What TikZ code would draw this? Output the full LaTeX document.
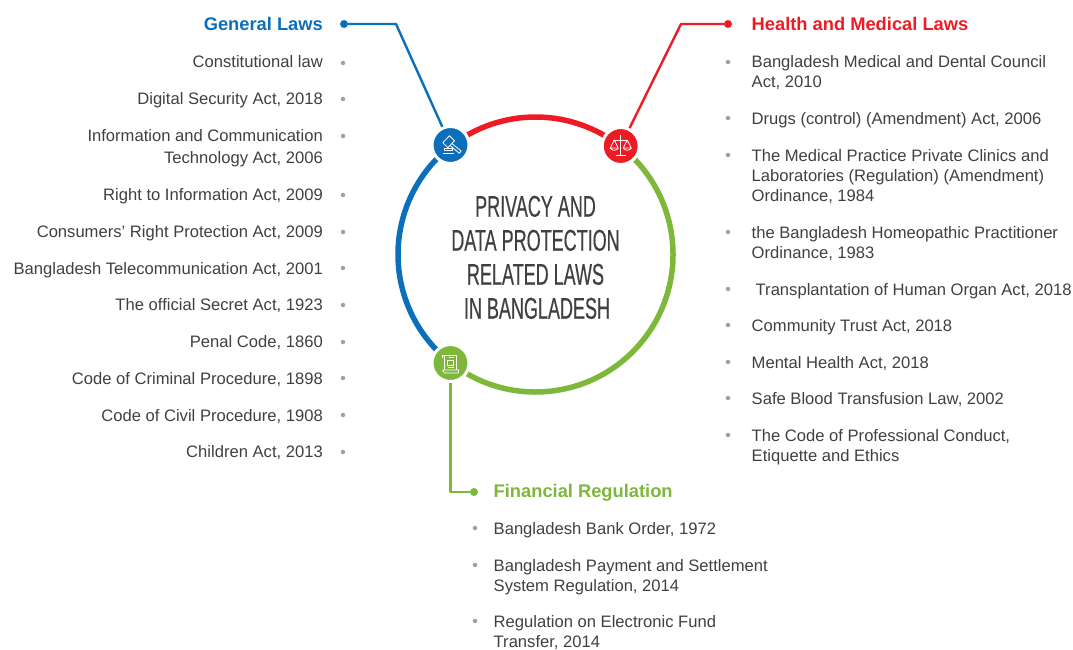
\documentclass[tikz,border=0pt]{standalone}
\usepackage{fontspec}
\setmainfont{Liberation Sans}
\newfontfamily\condfont[FakeStretch=0.6,FakeBold=0.35]{Liberation Sans}
\definecolor{lawblue}{HTML}{0B6FBC}
\definecolor{lawred}{HTML}{ED1C24}
\definecolor{lawgreen}{HTML}{7DB83A}
\definecolor{lawtext}{HTML}{404040}
\definecolor{lawdot}{HTML}{A0A0A0}
\tikzset{
  lawtxt/.style={inner sep=0pt,text=lawtext,font=\fontsize{16.6}{20}\selectfont},
  lawl/.style={lawtxt,anchor=north east,align=right},
  lawr/.style={lawtxt,anchor=north west,align=left},
  bul/.style={circle,fill=lawdot,inner sep=0pt,minimum size=4.5pt},
  head/.style={inner sep=0pt,font=\fontsize{18.3}{20}\selectfont\bfseries},
  enddot/.style={circle,inner sep=0pt,minimum size=8pt},
  icon/.style={circle,inner sep=0pt,minimum size=37pt,draw=white,line width=3pt},
  ringarc/.style={line width=5.5pt},
  conn/.style={line width=2.4pt},
  glyph/.style={draw=white,line width=0.8pt,line join=round},
  title/.style={inner sep=0pt,text=lawtext,font=\fontsize{30}{34}\condfont}
}
\newcommand{\lawL}[4]{\node[lawl] (#1) at (323,#2-5.5) {#4};\node[bul] (#1b) at (343,#3) {};}
\newcommand{\lawR}[4]{\node[lawr] (#1) at (751.5,#2-5.5) {#4};\node[bul] (#1b) at (728,#3) {};}
\newcommand{\lawF}[3]{\node[lawr] (#1) at (493.5,#2-5.5) {#3};\node[bul] (#1b) at (475,#2) {};}
\begin{document}
\begin{tikzpicture}[x=1pt,y=-1pt]
\useasboundingbox (0,0) rectangle (1073,650);
\coordinate (c) at (535.5,254.5);
% ring
\draw[ringarc,lawred] (c) ++(128:137.5pt) arc[start angle=128,end angle=52,radius=137.5pt];
\draw[ringarc,lawblue] (c) ++(128:137.5pt) arc[start angle=128,end angle=232,radius=137.5pt];
\draw[ringarc,lawgreen] (c) ++(52:137.5pt) arc[start angle=52,end angle=-128,radius=137.5pt];
% icons
\node[icon,fill=lawblue] (iconB) at (450.5,145) {};
\node[icon,fill=lawred] (iconR) at (620.7,146) {};
\node[icon,fill=lawgreen] (iconG) at (450.5,363) {};
% gavel
\begin{scope}[shift={(iconB)},glyph]
  \draw (-7.7,-2.3) -- (-1,-9.3) -- (4,-4.3) -- (-2.7,2.7) -- cycle;
  \draw (1.2,-1.6) -- (10.6,6) -- (8.8,8.2) -- (-0.6,0.4);
  \draw (-6,3.8) rectangle (2,5.8);
  \draw (-7.5,8) -- (3.5,8);
\end{scope}
% scales
\begin{scope}[shift={(iconR)},glyph]
  \draw (0,-10.5) -- (0,9);
  \draw (-7.5,-6) -- (7.5,-6);
  \draw (-5,9.5) -- (5,9.5);
  \draw (-6.5,-6) -- (-10.5,2) -- (-2.5,2) -- cycle;
  \draw (-10.5,2) .. controls (-9,5) and (-4,5) .. (-2.5,2);
  \draw (6.5,-6) -- (10.5,2) -- (2.5,2) -- cycle;
  \draw (10.5,2) .. controls (9,5) and (4,5) .. (2.5,2);
\end{scope}
% scroll
\begin{scope}[shift={(iconG)},glyph]
  \draw (-8,-5) -- (-8,-8) -- (6,-8) -- (6,7) (-6,-8) -- (-6,7);
  \draw (-8,7) -- (8,7) -- (8,10) -- (-6,10) -- (-8,7);
  \draw (-2,-5.5) -- (3,-5.5);
  \draw (-3,-3) rectangle (3,2);
  \draw (-3,4.5) -- (3,4.5);
\end{scope}
% connectors
\node[enddot,fill=lawblue] (dotB) at (344,24) {};
\node[enddot,fill=lawred] (dotR) at (728,24) {};
\node[enddot,fill=lawgreen] (dotG) at (474,492) {};
\coordinate (bendB) at (396,24);
\coordinate (bendR) at (681,24);
\coordinate (bendG) at (450.5,492);
\draw[conn,lawblue,line join=round] (dotB) -- (bendB) -- (iconB);
\draw[conn,lawred,line join=round] (dotR) -- (bendR) -- (iconR);
\draw[conn,lawgreen,line join=round] (dotG) -- (bendG) -- (iconG);
% title
\node[title,anchor=base] (t1) at (535.5,216.7) {PRIVACY AND};
\node[title,anchor=base] (t2) at (535.5,250.7) {DATA PROTECTION};
\node[title,anchor=base] (t3) at (535.5,284.7) {RELATED LAWS};
\node[title,anchor=base] (t4) at (537,318.7) {IN BANGLADESH};
% headings
\node[head,text=lawblue,anchor=base east] (hB) at (323,30.5) {General Laws};
\node[head,text=lawred,anchor=base west] (hR) at (751.5,30.5) {Health and Medical Laws};
\node[head,text=lawgreen,anchor=base west] (hG) at (493.5,497.5) {Financial Regulation};
% left list
\lawL{a1}{61}{63}{Constitutional law}
\lawL{a2}{98}{99}{Digital Security Act, 2018}
\lawL{a3}{135}{136}{Information and Communication\\[2pt]Technology Act, 2006}
\lawL{a4}{194}{195}{Right to Information Act, 2009}
\lawL{a5}{231}{232}{Consumers’ Right Protection Act, 2009}
\lawL{a6}{268}{268}{Bangladesh Telecommunication Act, 2001}
\lawL{a7}{304}{305}{The official Secret Act, 1923}
\lawL{a8}{341}{342}{Penal Code, 1860}
\lawL{a9}{378}{378}{Code of Criminal Procedure, 1898}
\lawL{a10}{415}{415}{Code of Civil Procedure, 1908}
\lawL{a11}{451}{452}{Children Act, 2013}
% right list
\lawR{b1}{61}{62}{Bangladesh Medical and Dental Council\\Act, 2010}
\lawR{b2}{118}{118}{Drugs (control) (Amendment) Act, 2006}
\lawR{b3}{155}{155}{The Medical Practice Private Clinics and\\Laboratories (Regulation) (Amendment)\\Ordinance, 1984}
\lawR{b4}{232}{232}{the Bangladesh Homeopathic Practitioner\\Ordinance, 1983}
\node[lawr] (b5) at (755.5,283.5) {Transplantation of Human Organ Act, 2018};
\node[bul] (b5b) at (728,289) {};
\lawR{b6}{325}{325}{Community Trust Act, 2018}
\lawR{b7}{362}{362}{Mental Health Act, 2018}
\lawR{b8}{398}{398}{Safe Blood Transfusion Law, 2002}
\lawR{b9}{435}{435}{The Code of Professional Conduct,\\Etiquette and Ethics}
% financial
\lawF{c1}{528}{Bangladesh Bank Order, 1972}
\lawF{c2}{565}{Bangladesh Payment and Settlement\\System Regulation, 2014}
\lawF{c3}{621}{Regulation on Electronic Fund\\Transfer, 2014}
\end{tikzpicture}
\end{document}
